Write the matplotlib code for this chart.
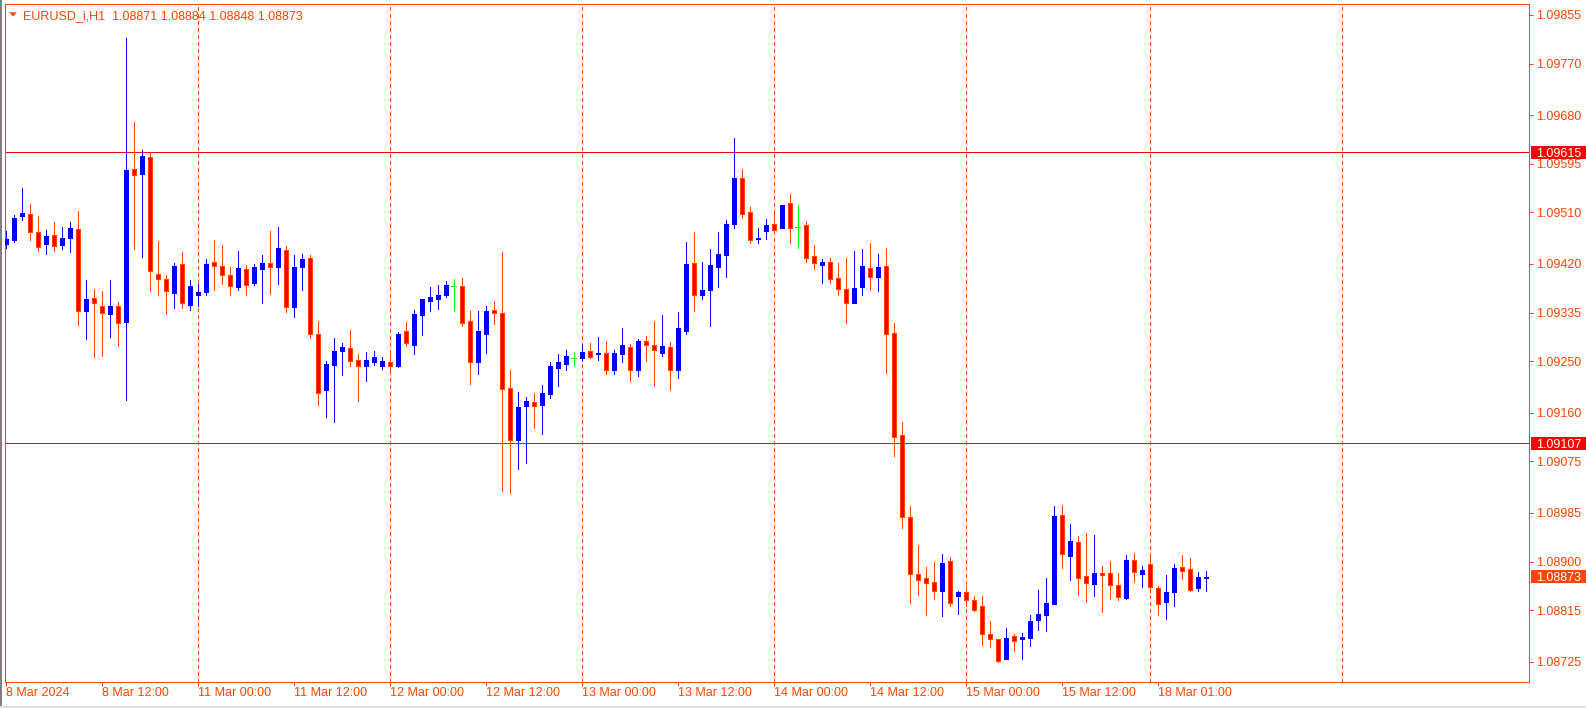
import matplotlib
matplotlib.use("Agg")
import matplotlib.pyplot as plt
from matplotlib.patches import Rectangle, Polygon
from matplotlib.transforms import blended_transform_factory
import numpy as np

# ---------------- data ----------------
title_text = "EURUSD_i,H1  1.08871 1.08884 1.08848 1.08873"

opens = [1.09455, 1.09461, 1.09503, 1.09507, 1.09476, 1.09455, 1.09471, 1.09453, 1.09465, 1.09481,
         1.09338, 1.09361, 1.09347, 1.09333, 1.09347, 1.09319, 1.09586, 1.09577, 1.09607, 1.09402,
         1.09394, 1.09369, 1.09420, 1.09349, 1.09365, 1.09371, 1.09423, 1.09416, 1.09401, 1.09380,
         1.09411, 1.09387, 1.09411, 1.09422, 1.09414, 1.09444, 1.09344, 1.09414, 1.09430, 1.09298,
         1.09199, 1.09244, 1.09267, 1.09273, 1.09252, 1.09241, 1.09248, 1.09242, 1.09249, 1.09242,
         1.09302, 1.09279, 1.09331, 1.09356, 1.09359, 1.09366, 1.09381, 1.09381, 1.09320, 1.09248,
         1.09298, 1.09340, 1.09334, 1.09203, 1.09113, 1.09171, 1.09179, 1.09174, 1.09192, 1.09239,
         1.09246, 1.09255, 1.09256, 1.09268, 1.09262, 1.09264, 1.09234, 1.09262, 1.09275, 1.09234,
         1.09285, 1.09278, 1.09265, 1.09275, 1.09235, 1.09303, 1.09422, 1.09365, 1.09375, 1.09415,
         1.09435, 1.09489, 1.09570, 1.09511, 1.09463, 1.09478, 1.09490, 1.09482, 1.09527, 1.09484,
         1.09488, 1.09434, 1.09419, 1.09424, 1.09396, 1.09376, 1.09352, 1.09379, 1.09413, 1.09398,
         1.09417, 1.09299, 1.09121, 1.08978, 1.08878, 1.08871, 1.08864, 1.08849, 1.08901, 1.08839,
         1.08847, 1.08832, 1.08822, 1.08774, 1.08765, 1.08729, 1.08770, 1.08764, 1.08767, 1.08797,
         1.08807, 1.08825, 1.08981, 1.08910, 1.08934, 1.08875, 1.08861, 1.08880, 1.08880, 1.08859,
         1.08836, 1.08903, 1.08879, 1.08896, 1.08854, 1.08830, 1.08846, 1.08891, 1.08887, 1.08853,
         1.08871]

highs = [1.09478, 1.09505, 1.09553, 1.09525, 1.09504, 1.09479, 1.09493, 1.09485, 1.09493, 1.09513,
         1.09392, 1.09376, 1.09373, 1.09392, 1.09354, 1.09815, 1.09668, 1.09619, 1.09614, 1.09460,
         1.09401, 1.09422, 1.09441, 1.09392, 1.09385, 1.09429, 1.09462, 1.09453, 1.09415, 1.09443,
         1.09418, 1.09420, 1.09436, 1.09478, 1.09485, 1.09451, 1.09436, 1.09437, 1.09436, 1.09320,
         1.09250, 1.09291, 1.09282, 1.09305, 1.09263, 1.09266, 1.09268, 1.09257, 1.09266, 1.09301,
         1.09319, 1.09340, 1.09359, 1.09380, 1.09383, 1.09390, 1.09394, 1.09395, 1.09338, 1.09338,
         1.09347, 1.09355, 1.09441, 1.09235, 1.09196, 1.09188, 1.09195, 1.09209, 1.09249, 1.09263,
         1.09270, 1.09266, 1.09278, 1.09282, 1.09292, 1.09285, 1.09270, 1.09308, 1.09280, 1.09289,
         1.09294, 1.09320, 1.09331, 1.09284, 1.09336, 1.09458, 1.09476, 1.09423, 1.09446, 1.09476,
         1.09497, 1.09640, 1.09586, 1.09520, 1.09483, 1.09499, 1.09507, 1.09523, 1.09542, 1.09523,
         1.09495, 1.09453, 1.09429, 1.09430, 1.09422, 1.09430, 1.09443, 1.09446, 1.09457, 1.09437,
         1.09448, 1.09317, 1.09144, 1.08997, 1.08929, 1.08891, 1.08899, 1.08913, 1.08908, 1.08849,
         1.08857, 1.08839, 1.08839, 1.08796, 1.08765, 1.08784, 1.08774, 1.08775, 1.08807, 1.08851,
         1.08871, 1.08997, 1.08999, 1.08966, 1.08945, 1.08950, 1.08946, 1.08892, 1.08901, 1.08880,
         1.08912, 1.08915, 1.08892, 1.08910, 1.08858, 1.08877, 1.08896, 1.08912, 1.08906, 1.08882,
         1.08884]

lows = [1.09448, 1.09459, 1.09497, 1.09461, 1.09443, 1.09437, 1.09442, 1.09446, 1.09441, 1.09313,
        1.09289, 1.09257, 1.09260, 1.09292, 1.09277, 1.09182, 1.09446, 1.09432, 1.09373, 1.09366,
        1.09333, 1.09343, 1.09343, 1.09340, 1.09347, 1.09366, 1.09375, 1.09385, 1.09366, 1.09375,
        1.09366, 1.09383, 1.09352, 1.09368, 1.09385, 1.09336, 1.09327, 1.09375, 1.09291, 1.09174,
        1.09153, 1.09144, 1.09226, 1.09242, 1.09181, 1.09216, 1.09243, 1.09237, 1.09230, 1.09240,
        1.09277, 1.09263, 1.09296, 1.09338, 1.09341, 1.09363, 1.09338, 1.09312, 1.09211, 1.09228,
        1.09264, 1.09315, 1.09024, 1.09020, 1.09062, 1.09073, 1.09133, 1.09123, 1.09185, 1.09207,
        1.09235, 1.09242, 1.09251, 1.09255, 1.09253, 1.09228, 1.09228, 1.09249, 1.09216, 1.09225,
        1.09251, 1.09206, 1.09260, 1.09199, 1.09220, 1.09298, 1.09337, 1.09358, 1.09312, 1.09379,
        1.09398, 1.09483, 1.09501, 1.09456, 1.09457, 1.09464, 1.09478, 1.09482, 1.09456, 1.09447,
        1.09424, 1.09412, 1.09387, 1.09387, 1.09366, 1.09316, 1.09352, 1.09366, 1.09375, 1.09372,
        1.09230, 1.09085, 1.08958, 1.08827, 1.08842, 1.08807, 1.08835, 1.08804, 1.08823, 1.08809,
        1.08822, 1.08814, 1.08755, 1.08750, 1.08725, 1.08729, 1.08744, 1.08729, 1.08753, 1.08781,
        1.08778, 1.08825, 1.08888, 1.08867, 1.08841, 1.08830, 1.08840, 1.08811, 1.08835, 1.08832,
        1.08834, 1.08865, 1.08856, 1.08847, 1.08807, 1.08800, 1.08823, 1.08870, 1.08849, 1.08849,
        1.08848]

closes = [1.09464, 1.09500, 1.09509, 1.09475, 1.09450, 1.09469, 1.09452, 1.09465, 1.09483, 1.09337,
          1.09359, 1.09351, 1.09335, 1.09347, 1.09317, 1.09584, 1.09576, 1.09609, 1.09407, 1.09393,
          1.09372, 1.09416, 1.09352, 1.09382, 1.09371, 1.09420, 1.09417, 1.09400, 1.09382, 1.09413,
          1.09384, 1.09415, 1.09422, 1.09415, 1.09448, 1.09344, 1.09415, 1.09429, 1.09297, 1.09195,
          1.09245, 1.09268, 1.09275, 1.09251, 1.09241, 1.09252, 1.09257, 1.09250, 1.09241, 1.09298,
          1.09281, 1.09333, 1.09359, 1.09362, 1.09366, 1.09383, 1.09381, 1.09317, 1.09249, 1.09303,
          1.09338, 1.09335, 1.09202, 1.09113, 1.09170, 1.09181, 1.09172, 1.09195, 1.09242, 1.09249,
          1.09259, 1.09255, 1.09266, 1.09258, 1.09264, 1.09234, 1.09264, 1.09278, 1.09235, 1.09285,
          1.09279, 1.09269, 1.09277, 1.09234, 1.09308, 1.09420, 1.09366, 1.09375, 1.09418, 1.09437,
          1.09490, 1.09570, 1.09508, 1.09461, 1.09466, 1.09488, 1.09480, 1.09523, 1.09482, 1.09484,
          1.09431, 1.09422, 1.09424, 1.09394, 1.09377, 1.09352, 1.09378, 1.09417, 1.09398, 1.09415,
          1.09297, 1.09118, 1.08977, 1.08878, 1.08868, 1.08863, 1.08849, 1.08898, 1.08827, 1.08847,
          1.08832, 1.08816, 1.08774, 1.08764, 1.08727, 1.08767, 1.08762, 1.08768, 1.08796, 1.08808,
          1.08828, 1.08980, 1.08913, 1.08936, 1.08872, 1.08863, 1.08880, 1.08877, 1.08859, 1.08838,
          1.08903, 1.08882, 1.08885, 1.08856, 1.08825, 1.08847, 1.08889, 1.08884, 1.08851, 1.08873,
          1.08873]

time_labels = ["8 Mar 2024", "8 Mar 12:00", "11 Mar 00:00", "11 Mar 12:00", "12 Mar 00:00",
               "12 Mar 12:00", "13 Mar 00:00", "13 Mar 12:00", "14 Mar 00:00", "14 Mar 12:00",
               "15 Mar 00:00", "15 Mar 12:00", "18 Mar 01:00"]
time_label_bars = [0, 12, 24, 36, 48, 60, 72, 84, 96, 108, 120, 132, 144]
separator_bars = [24, 48, 72, 96, 120, 143, 167]

price_ticks = [1.09855, 1.09770, 1.09680, 1.09595, 1.09510, 1.09420, 1.09335,
               1.09250, 1.09160, 1.09075, 1.08985, 1.08900, 1.08815, 1.08725]
level_lines = [1.09615, 1.09107]
last_price = 1.08873

# ---------------- layout ----------------
W, H, DPI = 1586, 708, 100
PX = 72.0 / DPI
OR = '#FF4500'
BLUE = '#0000FF'
RED = '#FF0000'
LIME = '#00FF00'

plt.rcParams['font.family'] = ['Liberation Sans', 'DejaVu Sans']

fig = plt.figure(figsize=(W / DPI, H / DPI), dpi=DPI, facecolor='white')
L, R, T, B = 4.7, 1529, 4, 682
ax = fig.add_axes([L / W, 1 - B / H, (R - L) / W, (B - T) / H])
ax.set_facecolor('white')

YMIN, YMAX = 1.086895, 1.098742
ax.set_xlim(-0.125, 190.4)
ax.set_ylim(YMIN, YMAX)
dpp = (YMAX - YMIN) / (B - T)

o = np.array(opens); h = np.array(highs); lo = np.array(lows); c = np.array(closes)
x = np.arange(len(o))
up = c > o
dn = c < o
dj = c == o

# grid separators
for b in separator_bars:
    ax.axvline(b, color=OR, lw=PX, linestyle=(0, (3, 3)), antialiased=False, zorder=1)

# level lines
for lv in level_lines:
    ax.axhline(lv, color=RED, lw=PX, antialiased=False, zorder=2)

# wicks
wick_cols = np.where(up, BLUE, np.where(dn, OR, LIME))
ax.vlines(x, lo, h, colors=list(wick_cols), lw=PX, antialiased=False, zorder=3)

# bodies
ax.bar(x[up], (c - o)[up], bottom=o[up], width=0.5, color=BLUE, edgecolor=BLUE,
       linewidth=PX, antialiased=False, zorder=4)
ax.bar(x[dn], (o - c)[dn], bottom=c[dn], width=0.5, color=RED, edgecolor=OR,
       linewidth=PX, antialiased=False, zorder=4)
ax.hlines(o[dj], x[dj] - 0.3, x[dj] + 0.3, colors=LIME, lw=PX, antialiased=False, zorder=4)

# axes styling
for s in ax.spines.values():
    s.set_color(OR)
    s.set_linewidth(PX)

ax.yaxis.tick_right()
ax.set_yticks(price_ticks)
ax.set_yticklabels([f"{p:.5f}" for p in price_ticks])
ax.set_xticks(time_label_bars)
ax.set_xticklabels(time_labels, ha='left')
ax.tick_params(axis='both', colors=OR, labelcolor=OR, length=4 * PX, width=PX, labelsize=9)
ax.tick_params(axis='y', pad=3 * PX)
ax.tick_params(axis='x', pad=0.5 * PX)

# price boxes on the right scale
trans = blended_transform_factory(fig.transFigure, ax.transData)
for p, col in [(level_lines[0], RED), (level_lines[1], RED), (last_price, OR)]:
    ax.add_patch(Rectangle((1531 / W, p - 6.5 * dpp), (W - 1531) / W, 13 * dpp,
                           transform=trans, facecolor=col, edgecolor='none',
                           clip_on=False, zorder=6))
    ax.text(1536.5 / W, p, f"{p:.5f}", transform=trans, color='white', fontsize=9,
            ha='left', va='center_baseline', clip_on=False, zorder=7)

# title
fig.add_artist(Polygon([[9 / W, 1 - 12.3 / H], [17 / W, 1 - 12.3 / H], [13 / W, 1 - 16.5 / H]],
                       closed=True, transform=fig.transFigure, facecolor=OR, edgecolor='none'))
fig.text(23 / W, 1 - 14.5 / H, title_text, color=OR, fontsize=9, ha='left', va='center_baseline')

# window frame hints
fig.add_artist(Rectangle((0, 0), 1.5 / W, 1, transform=fig.transFigure, facecolor='#808080', edgecolor='none'))
fig.add_artist(Rectangle((0, 0), 1, 2 / H, transform=fig.transFigure, facecolor='#E0E0E0', edgecolor='none'))

fig.savefig("out.png", dpi=DPI, facecolor='white')
